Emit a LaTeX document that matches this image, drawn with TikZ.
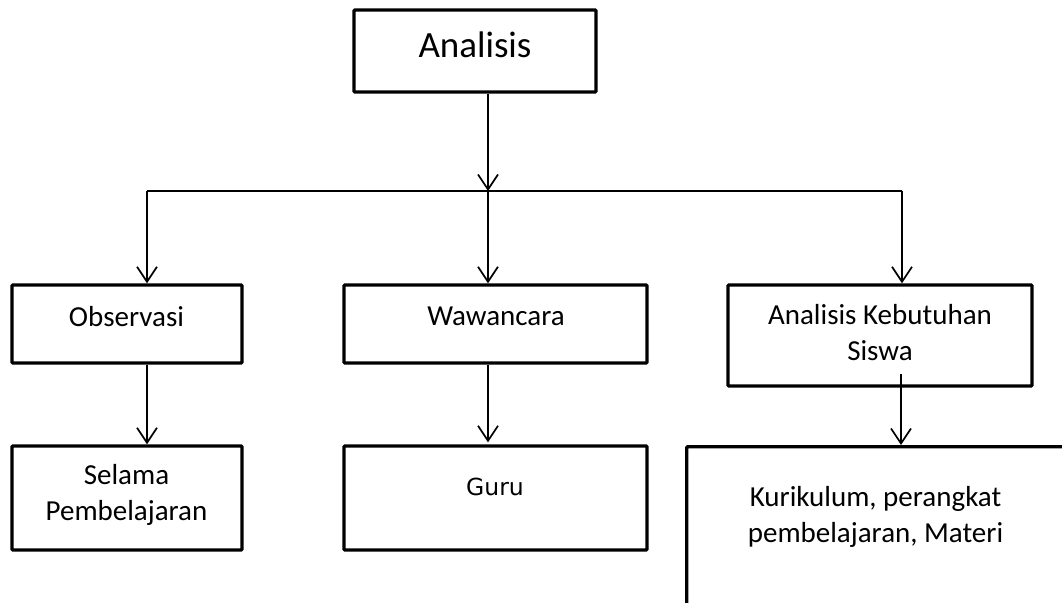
\documentclass[tikz,border=0pt]{standalone}
\usepackage{fontspec}
\setmainfont{Carlito}
\newfontfamily\gurufont{DejaVu Sans}
\usetikzlibrary{arrows.meta}
\begin{document}
\begin{tikzpicture}[x=1pt,y=-1pt,
  boxnode/.style={draw=black,line width=3.4pt,rectangle,inner sep=0pt,rounded corners=1pt},
  txt/.style={anchor=base,inner sep=0pt,align=center,font=\fontsize{29}{35.5}\selectfont},
  conn/.style={draw=black,line width=1.7pt},
  arr/.style={conn,-{Straight Barb[length=15pt,width=20pt,line width=1.7pt]}}]
\clip (0,0) rectangle (1062,602);
\fill[white] (0,0) rectangle (1062,602);
% boxes
\node[boxnode,minimum width=242pt,minimum height=82pt] (ana) at (475,51) {};
\node[boxnode,minimum width=230pt,minimum height=78pt] (obs) at (127,324) {};
\node[boxnode,minimum width=303pt,minimum height=78pt] (waw) at (495.5,324) {};
\node[boxnode,minimum width=304pt,minimum height=101pt] (aks) at (880,335.5) {};
\node[boxnode,minimum width=230pt,minimum height=104pt] (sel) at (127,498) {};
\node[boxnode,minimum width=303pt,minimum height=104pt] (guru) at (495.5,498) {};
\node[boxnode,minimum width=400pt,minimum height=200pt,anchor=north west] (kur) at (685,445) {};
% texts
\node[txt,font=\fontsize{37}{44}\selectfont] (tana) at (475,57) {Analisis};
\node[txt] (tobs) at (126.5,326) {Observasi};
\node[txt] (twaw) at (496,325) {Wawancara};
\node[txt] (taks) at (880,360) {Analisis Kebutuhan\\Siswa};
\node[txt] (tsel) at (126.5,520) {Selama\\Pembelajaran};
\node[txt,font=\gurufont\fontsize{23.5}{28}\selectfont] (tguru) at (495,495) {Guru};
\node[txt] (tkur) at (875.5,542) {Kurikulum, perangkat\\pembelajaran, Materi};
% connectors
\coordinate (j) at (488,191);
\coordinate (hl) at (147,191);
\coordinate (hr) at (902,191);
\coordinate (ks) at (901,374);
\draw[conn] (hl) -- (hr);
\draw[arr] (ana.south -| j) -- (j);
\draw[arr] (hl) -- (hl |- obs.north);
\draw[arr] (j) -- (j |- waw.north);
\draw[arr] (hr) -- (hr |- aks.north);
\draw[arr] (obs.south -| hl) -- (hl |- sel.north);
\draw[arr] (waw.south -| j) -- ([yshift=2pt]j |- guru.north);
\draw[arr] (ks) -- (ks |- kur.north);
\end{tikzpicture}
\end{document}
